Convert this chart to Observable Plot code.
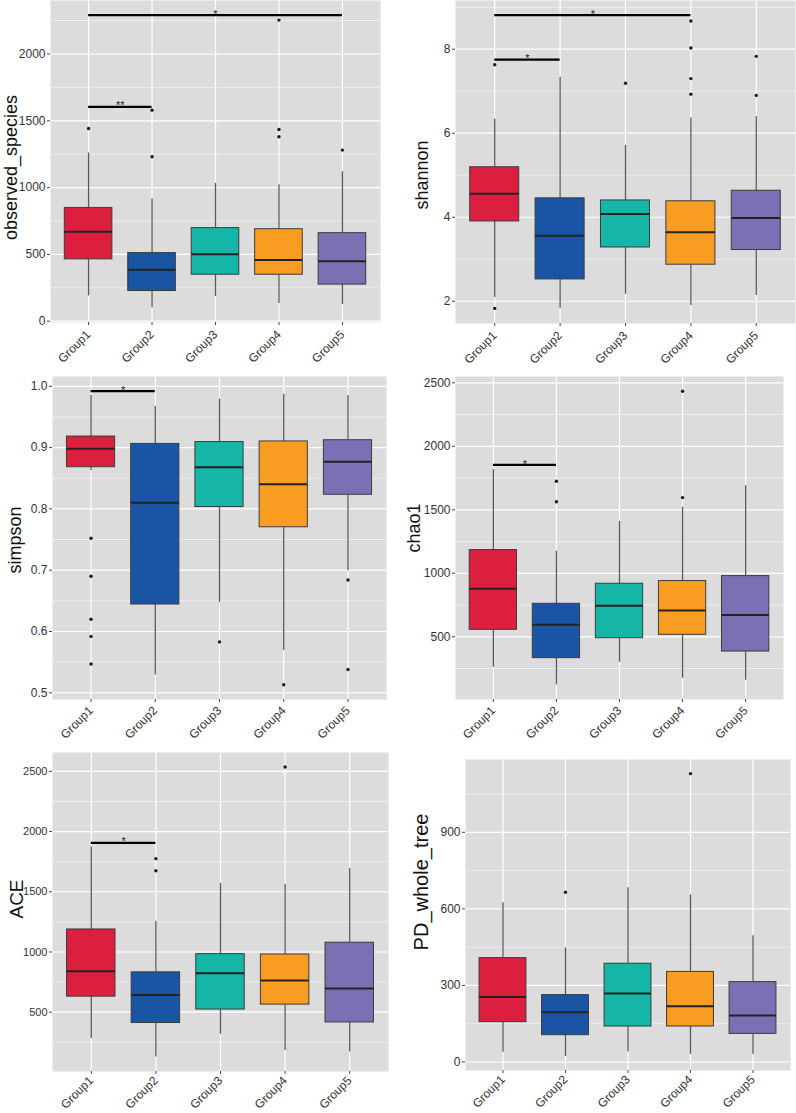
<!DOCTYPE html>
<html>
<head>
<meta charset="utf-8">
<script src="https://cdn.jsdelivr.net/npm/d3@7"></script>
<script src="https://cdn.jsdelivr.net/npm/@observablehq/plot@0.6"></script>
<style>
  html, body { margin: 0; padding: 0; background: #fff; }
  #grid { display: grid; grid-template-columns: 398px 398px; grid-auto-rows: 371px; width: 796px; }
  #grid > svg { display: block; }
</style>
</head>
<body>
<div id="grid"></div>
<script>
// ---------- data ----------
const groups = ["Group1", "Group2", "Group3", "Group4", "Group5"];
const groupColors = ["#DC1F3F", "#1A55A5", "#15B5A8", "#F89C22", "#7D6FB3"];

// box rows per group: [lower whisker, Q1, median, Q3, upper whisker]
const observedBox = [[189, 463, 669, 848, 1259], [100, 226, 386, 510, 915], [184, 348, 502, 697, 1032], [132, 348, 458, 689, 1022], [124, 274, 448, 659, 1119]];
const observedOut = [[1, 1443], [2, 1580], [2, 1231], [4, 2254], [4, 1435], [4, 1381], [5, 1281]];
const observedSig = [[1, 2, 1604, "**"], [1, 5, 2291, "*"]];
const observedTicks = [0, 500, 1000, 1500, 2000];
const observedMinor = [250, 750, 1250, 1750, 2250];

const shannonBox = [[2.09, 3.90, 4.56, 5.19, 6.34], [1.82, 2.52, 3.56, 4.45, 7.33], [2.17, 3.28, 4.08, 4.40, 5.71], [1.90, 2.87, 3.64, 4.38, 6.36], [2.14, 3.22, 3.98, 4.63, 6.40]];
const shannonOut = [[1, 7.63], [1, 1.83], [3, 7.19], [4, 8.67], [4, 8.03], [4, 7.30], [4, 6.93], [5, 7.83], [5, 6.90]];
const shannonSig = [[1, 2, 7.75, "*"], [1, 4, 8.81, "*"]];
const shannonTicks = [2, 4, 6, 8];
const shannonMinor = [1, 3, 5, 7, 9];

const simpsonBox = [[0.862, 0.868, 0.898, 0.918, 0.985], [0.529, 0.644, 0.810, 0.906, 0.967], [0.647, 0.803, 0.868, 0.909, 0.979], [0.569, 0.770, 0.840, 0.910, 0.987], [0.699, 0.823, 0.877, 0.912, 0.985]];
const simpsonOut = [[1, 0.752], [1, 0.690], [1, 0.620], [1, 0.592], [1, 0.547], [3, 0.583], [4, 0.513], [5, 0.684], [5, 0.538]];
const simpsonSig = [[1, 2, 0.992, "*"]];
const simpsonTicks = [0.5, 0.6, 0.7, 0.8, 0.9, 1.0];
const simpsonMinor = [0.45, 0.55, 0.65, 0.75, 0.85, 0.95];

const chaoBox = [[261, 555, 878, 1183, 1817], [122, 332, 595, 760, 1173], [300, 489, 744, 918, 1409], [174, 516, 708, 939, 1520], [158, 384, 671, 978, 1690]];
const chaoOut = [[2, 1725], [2, 1564], [4, 2434], [4, 1596]];
const chaoSig = [[1, 2, 1853, "*"]];
const chaoTicks = [500, 1000, 1500, 2000, 2500];
const chaoMinor = [250, 750, 1250, 1750, 2250];

const aceBox = [[281, 629, 839, 1187, 1871], [128, 410, 642, 831, 1255], [317, 522, 823, 982, 1570], [183, 563, 763, 979, 1562], [169, 415, 697, 1077, 1693]];
const aceOut = [[2, 1775], [2, 1674], [4, 2536]];
const aceSig = [[1, 2, 1906, "*"]];
const aceTicks = [500, 1000, 1500, 2000, 2500];
const aceMinor = [250, 750, 1250, 1750, 2250];

const pdBox = [[38, 156, 255, 407, 624], [22, 105, 195, 262, 447], [39, 139, 268, 385, 683], [30, 139, 218, 353, 655], [29, 110, 182, 313, 495]];
const pdOut = [[2, 665], [4, 1130]];
const pdSig = [];
const pdTicks = [0, 300, 600, 900];
const pdMinor = [150, 450, 750, 1050];

// ---------- drawing ----------
const BG = "#dcdcdd";

function panel(cfg) {
  const rows = groups.map((g, k) => ({
    i: k + 1, lo: cfg.box[k][0], q1: cfg.box[k][1], med: cfg.box[k][2], q3: cfg.box[k][3], hi: cfg.box[k][4], color: groupColors[k]
  }));
  const vals = [...cfg.box.flat(), ...cfg.out.map(d => d[1]), ...cfg.sig.map(d => d[2])];
  const lo = d3.min(vals), hi = d3.max(vals), pad = (hi - lo) * 0.05;
  const domain = [lo - pad, hi + pad];
  const inDom = v => v >= domain[0] && v <= domain[1];
  const [mt, mr, mb, ml] = cfg.margins;
  return Plot.plot({
    width: 398,
    height: 371,
    marginTop: mt, marginRight: mr, marginBottom: mb, marginLeft: ml,
    style: { fontFamily: "'Liberation Sans', Arial, sans-serif", fontSize: "12px", color: "#333", background: "transparent", overflow: "visible" },
    x: { domain: [0.4, 5.6] },
    y: { domain },
    color: { type: "identity" },
    marks: [
      Plot.frame({ fill: BG, stroke: null }),
      Plot.ruleY(cfg.minor.filter(inDom), { stroke: "#fff", strokeWidth: 0.6, strokeOpacity: 0.8 }),
      Plot.ruleY(cfg.ticks.filter(inDom), { stroke: "#fff", strokeWidth: 1.2 }),
      Plot.ruleX([1, 2, 3, 4, 5], { stroke: "#fff", strokeWidth: 1.2 }),
      Plot.ruleX(rows, { x: "i", y1: "lo", y2: "q1", stroke: "#5a5a5a", strokeWidth: 1.3 }),
      Plot.ruleX(rows, { x: "i", y1: "q3", y2: "hi", stroke: "#5a5a5a", strokeWidth: 1.3 }),
      Plot.rectY(rows, { x1: d => d.i - 0.375, x2: d => d.i + 0.375, y1: "q1", y2: "q3", fill: "color", stroke: "#3c3c3c", strokeWidth: 1 }),
      Plot.ruleY(rows, { y: "med", x1: d => d.i - 0.375, x2: d => d.i + 0.375, stroke: "#222", strokeWidth: 2 }),
      Plot.dot(cfg.out, { x: d => d[0], y: d => d[1], r: 1.7, fill: "#1a1a1a", stroke: null }),
      Plot.ruleY(cfg.sig, { y: d => d[2], x1: d => d[0], x2: d => d[1], stroke: "#000", strokeWidth: 2.2 }),
      Plot.text(cfg.sig, { x: d => (d[0] + d[1]) / 2, y: d => d[2], text: d => d[3], fontSize: 11, dy: -1, fill: "#222" }),
      Plot.axisY(cfg.ticks, { tickSize: 3, tickPadding: 2, fontSize: cfg.tickSize, label: null, stroke: "#444", fill: "#333", tickFormat: cfg.fmt }),
      Plot.axisX([1, 2, 3, 4, 5], { tickFormat: i => groups[i - 1], tickRotate: -45, tickSize: 3, tickPadding: cfg.xPad, fontSize: 12, label: null, stroke: "#444", fill: "#333" }),
      Plot.text([cfg.label], { text: d => d, frameAnchor: "left", textAnchor: "middle", rotate: -90, dx: cfg.titleX - ml, dy: cfg.titleDy, fontSize: cfg.titleSize, fill: "#111" })
    ]
  });
}

const intFmt = d3.format("d");
const oneDec = d3.format(".1f");

const panels = [
  { box: observedBox, out: observedOut, sig: observedSig, ticks: observedTicks, minor: observedMinor, fmt: intFmt, tickSize: 12, xPad: 7, label: "observed_species", margins: [0, 18, 49, 50], titleX: 11, titleDy: 6, titleSize: 18 },
  { box: shannonBox, out: shannonOut, sig: shannonSig, ticks: shannonTicks, minor: shannonMinor, fmt: intFmt, tickSize: 12, xPad: 7, label: "shannon", margins: [0, 1, 48, 57], titleX: 24, titleDy: 13, titleSize: 18 },
  { box: simpsonBox, out: simpsonOut, sig: simpsonSig, ticks: simpsonTicks, minor: simpsonMinor, fmt: oneDec, tickSize: 12, xPad: 6, label: "simpson", margins: [5, 12, 43, 52], titleX: 15, titleDy: 2, titleSize: 18 },
  { box: chaoBox, out: chaoOut, sig: chaoSig, ticks: chaoTicks, minor: chaoMinor, fmt: intFmt, tickSize: 12, xPad: 6, label: "chao1", margins: [5, 13, 43, 57], titleX: 16, titleDy: -10, titleSize: 18 },
  { box: aceBox, out: aceOut, sig: aceSig, ticks: aceTicks, minor: aceMinor, fmt: intFmt, tickSize: 11, xPad: 4, label: "ACE", margins: [10, 10, 42, 52], titleX: 16, titleDy: -13, titleSize: 19 },
  { box: pdBox, out: pdOut, sig: pdSig, ticks: pdTicks, minor: pdMinor, fmt: intFmt, tickSize: 12, xPad: 4, label: "PD_whole_tree", margins: [17, 6, 43, 67], titleX: 23, titleDy: -33, titleSize: 20 }
];

const grid = document.getElementById("grid");
for (const p of panels) grid.appendChild(panel(p));
</script>
</body>
</html>
